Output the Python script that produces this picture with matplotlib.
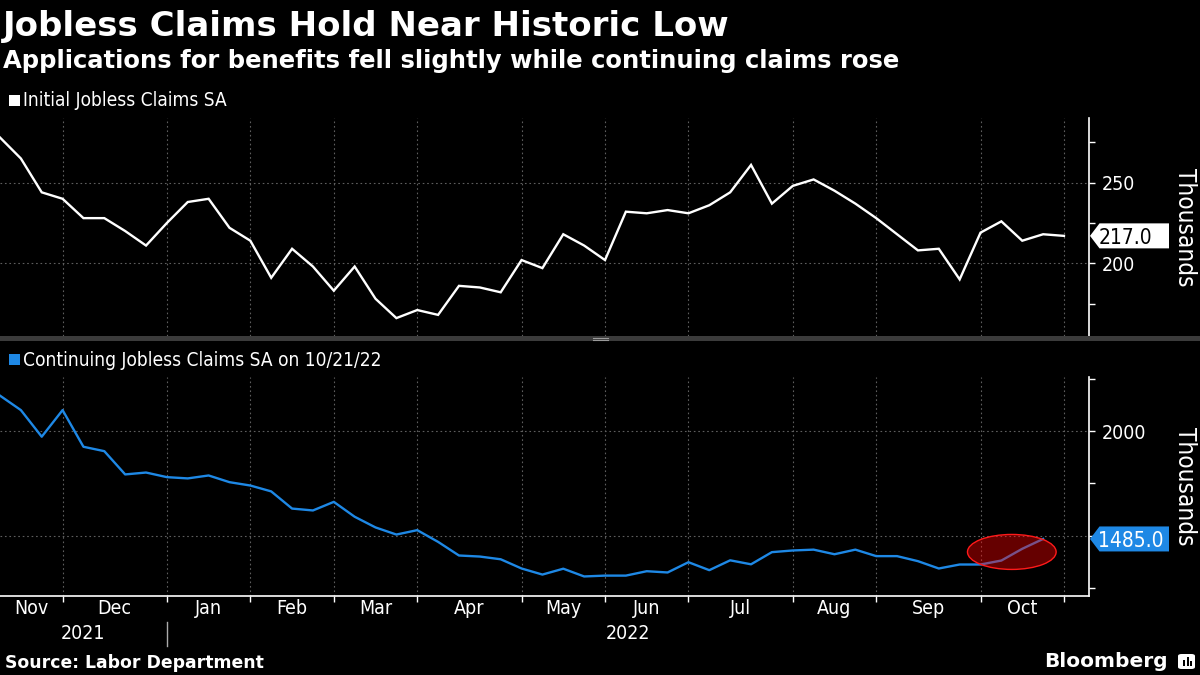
import numpy as np
import matplotlib
matplotlib.use("Agg")
import matplotlib.pyplot as plt
import matplotlib.transforms as mtransforms
from matplotlib.patches import Ellipse, Polygon, Rectangle, FancyBboxPatch
from matplotlib.lines import Line2D

# weekly values, thousands
initial_claims = [278, 265, 244, 240, 228, 228, 220, 211, 225, 238, 240, 222, 214,
                  191, 209, 198, 183, 198, 178, 166, 171, 168, 186, 185, 182, 202,
                  197, 218, 211, 202, 232, 231, 233, 231, 236, 244, 261, 237, 248,
                  252, 245, 237, 228, 218, 208, 209, 190, 219, 226, 214, 218, 217]
continuing_claims = [2169, 2100, 1973, 2100, 1925, 1904, 1793, 1802, 1780, 1774, 1788,
                     1756, 1740, 1712, 1630, 1621, 1662, 1591, 1540, 1506, 1527, 1471,
                     1406, 1401, 1388, 1344, 1315, 1343, 1306, 1310, 1310, 1331, 1325,
                     1374, 1336, 1383, 1364, 1422, 1430, 1434, 1412, 1434, 1403, 1403,
                     1379, 1344, 1363, 1363, 1382, 1438, 1485]

month_labels = ["Nov", "Dec", "Jan", "Feb", "Mar", "Apr", "May", "Jun",
                "Jul", "Aug", "Sep", "Oct"]
month_starts = [0, 3, 8, 12, 16, 20, 25, 29, 33, 38, 42, 47, 51]  # week index
year_labels = ["2021", "2022"]
year_starts = [0, 8]

initial_major = [200, 250]
initial_labels = ["200", "250"]
initial_minor = [175, 225, 275]
continuing_major = [1500, 2000]
continuing_labels = ["", "2000"]  # 1500 sits under the last-value tag
continuing_minor = [1250, 1750, 2250]
highlight_weeks = [47, 48, 49, 50]

W, H = 1200, 675
BG = "black"
BLUE = "#1e88e5"
GRID = "#5e5e5e"
X_END = 52.2

plt.rcParams["font.family"] = ["DejaVu Sans"]
plt.rcParams["font.stretch"] = "condensed"

fig = plt.figure(figsize=(12, 6.75), dpi=100, facecolor=BG)


def px_box(left, top, right, bottom):
    return [left / W, 1 - bottom / H, (right - left) / W, (bottom - top) / H]


def style(ax, major, labels, minor, ylim):
    ax.set_facecolor(BG)
    ax.set_xlim(0, X_END)
    ax.set_ylim(*ylim)
    for side in ["top", "left", "bottom"]:
        ax.spines[side].set_visible(False)
    ax.spines["right"].set_color("white")
    ax.spines["right"].set_linewidth(1.2)
    ax.yaxis.tick_right()
    ax.set_yticks(major, labels)
    ax.set_yticks(minor, minor=True)
    ax.tick_params(axis="y", which="both", colors="white", length=4, width=1,
                   labelsize=14, pad=5)
    ax.set_xticks(month_starts[1:])
    ax.set_xticklabels([])
    ax.tick_params(axis="x", length=0)
    ax.grid(True, which="major", color=GRID, linestyle=(0, (1.5, 2.5)), linewidth=0.8)
    ax.set_axisbelow(True)
    ax.text(1.088, 0.5, "Thousands", transform=ax.transAxes, rotation=270,
            ha="center", va="center", color="white", fontsize=17.5)


def value_tag(ax, value, face, text_color):
    anchor = mtransforms.ScaledTranslation(1.0, value, ax.get_yaxis_transform())
    trans = fig.dpi_scale_trans + anchor
    verts = [(0.01, 0), (0.105, 0.125), (0.80, 0.125), (0.80, -0.125), (0.105, -0.125)]
    ax.add_patch(Polygon(verts, closed=True, transform=trans, facecolor=face,
                         edgecolor="none", clip_on=False, zorder=5))
    ax.text(0.095, 0, f"{value:.1f}", transform=trans, ha="left", va="center_baseline",
            color=text_color, fontsize=15, zorder=6, clip_on=False)


# top panel: initial claims
ax1 = fig.add_axes(px_box(0, 118, 1089, 336))
style(ax1, initial_major, initial_labels, initial_minor, (154.9, 290.1))
ax1.plot(np.arange(len(initial_claims)), initial_claims, color="white", lw=1.7,
         solid_joinstyle="miter")
value_tag(ax1, initial_claims[-1], "white", "black")

# bottom panel: continuing claims
ax2 = fig.add_axes(px_box(0, 377, 1089, 596))
style(ax2, continuing_major, continuing_labels, continuing_minor, (1212.7, 2258))
weeks2 = np.arange(len(continuing_claims))
ax2.plot(weeks2, continuing_claims, color=BLUE, lw=1.7)
value_tag(ax2, continuing_claims[-1], BLUE, "white")

hx = weeks2[highlight_weeks]
hy = np.array(continuing_claims)[highlight_weeks]
ax2.add_patch(Ellipse((hx.mean(), hy.mean() + 6), width=np.ptp(hx) + 1.25,
                      height=np.ptp(hy) + 45, facecolor=(1, 0, 0, 0.4),
                      edgecolor="#ff1a1a", linewidth=1, zorder=4))

ax2.spines["bottom"].set_visible(True)
ax2.spines["bottom"].set_color("white")
ax2.spines["bottom"].set_linewidth(1.2)
ax2.tick_params(axis="x", length=4, width=1, colors="white", direction="out")

xtrans = ax2.get_xaxis_transform()
for i, lab in enumerate(month_labels):
    c = (month_starts[i] + month_starts[i + 1]) / 2
    ax2.text(c, -0.056, lab, transform=xtrans, ha="center", va="center",
             color="white", fontsize=14)
year_ends = year_starts[1:] + [X_END]
for lab, a, b in zip(year_labels, year_starts, year_ends):
    ax2.text((a + b) / 2, -0.17, lab, transform=xtrans, ha="center", va="center",
             color="white", fontsize=14)
ax2.plot([year_starts[1]] * 2, [-0.118, -0.228], transform=xtrans, color="#aaaaaa",
         lw=1, clip_on=False)

# panel separator
fig.add_artist(Rectangle((0, 1 - 341 / H), 1, 5 / H, transform=fig.transFigure,
                         facecolor="#3b3b3b", edgecolor="none"))
for yy in (337.6, 339.6):
    fig.add_artist(Line2D([593 / W, 608 / W], [1 - yy / H] * 2, transform=fig.transFigure,
                          color="#9a9a9a", lw=0.8))

# titles
fig.text(3 / W, 1 - 36 / H, "Jobless Claims Hold Near Historic Low", color="white",
         fontsize=24.5, fontweight="bold", fontstretch="normal", va="baseline")
fig.text(3 / W, 1 - 68 / H,
         "Applications for benefits fell slightly while continuing claims rose",
         color="white", fontsize=17.5, fontweight="bold", fontstretch="normal",
         va="baseline")

# legends
fig.add_artist(Rectangle((9 / W, 1 - 106 / H), 11 / W, 11 / H, transform=fig.transFigure,
                         facecolor="white", edgecolor="none"))
fig.text(23 / W, 1 - 106 / H, "Initial Jobless Claims SA", color="white", fontsize=13.7,
         va="baseline")
fig.add_artist(Rectangle((9 / W, 1 - 365 / H), 11 / W, 11 / H, transform=fig.transFigure,
                         facecolor=BLUE, edgecolor="none"))
fig.text(23 / W, 1 - 366 / H, "Continuing Jobless Claims SA on 10/21/22", color="white",
         fontsize=13.7, va="baseline")

# footer
fig.text(5 / W, 1 - 668 / H, "Source: Labor Department", color="white", fontsize=12.4,
         fontweight="bold", fontstretch="normal", va="baseline")
fig.text(1168 / W, 1 - 667 / H, "Bloomberg", color="white", fontsize=14.5,
         fontweight="bold", fontstretch="normal", va="baseline", ha="right")
fig.add_artist(FancyBboxPatch((1178 / W, 1 - 669 / H), 17 / W, 15 / H,
                              boxstyle="round,pad=0,rounding_size=0.003",
                              transform=fig.transFigure, facecolor="white",
                              edgecolor="none"))
for bx, bh in ((1183, 6), (1186.5, 9), (1190, 5)):
    fig.add_artist(Rectangle((bx / W, 1 - 666 / H), 2 / W, bh / H,
                             transform=fig.transFigure, facecolor="black",
                             edgecolor="none"))

fig.savefig("out.png", dpi=100, facecolor=BG)
